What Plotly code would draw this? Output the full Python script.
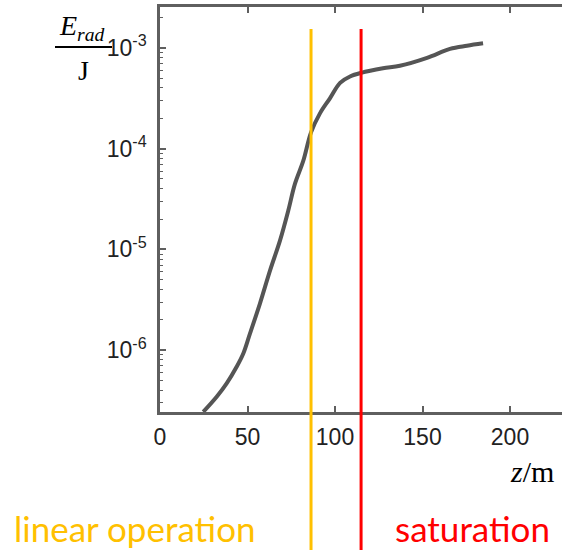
import plotly.graph_objects as go

# Radiated energy along the undulator (z in metres, E_rad in joules)
z_m = [24.7, 32.4, 38.1, 43.8, 47.6, 51.4, 57.1, 62.9, 68.6, 73.3, 77.1, 81.9,
       86.3, 91.4, 97.1, 102.9, 108.6, 114.9, 127.4, 137.1, 152.6, 165.7, 175.4, 184.6]
e_rad_J = [2.44e-7, 3.45e-7, 4.68e-7, 6.84e-7, 9.27e-7, 1.46e-6, 2.90e-6, 6.19e-6,
           1.23e-5, 2.43e-5, 4.47e-5, 7.60e-5, 1.45e-4, 2.24e-4, 3.16e-4, 4.50e-4,
           5.20e-4, 5.65e-4, 6.27e-4, 6.64e-4, 7.96e-4, 9.77e-4, 1.05e-3, 1.11e-3]

# Regime boundaries (z in metres)
linear_end_z = 86.3
saturation_z = 114.9

x_ticks = [0, 50, 100, 150, 200]
y_tick_exps = [-6, -5, -4, -3]
y_tick_vals = [10.0 ** e for e in y_tick_exps]
y_tick_text = [f"10<sup>{e}</sup>" for e in y_tick_exps]

W, H = 562, 550
L, R, T, B = 160, 0, 7, 138
plot_w = W - L - R
plot_h = H - T - B


def px(xpix):
    return (xpix - L) / plot_w


def py(ypix):
    return (H - B - ypix) / plot_h


axis_col = "#5f5f5f"
tick_font = dict(family="Liberation Sans", size=23, color="#222222")
serif = "Liberation Serif"
label_font = "Lato"

fig = go.Figure()
fig.add_trace(go.Scatter(
    x=z_m, y=e_rad_J, mode="lines",
    line=dict(color="#555555", width=4, shape="spline", smoothing=1.0),
    hoverinfo="skip", showlegend=False,
))

fig.update_layout(
    width=W, height=H,
    margin=dict(l=L, r=R, t=T, b=B, pad=0),
    paper_bgcolor="white", plot_bgcolor="white",
    showlegend=False,
    xaxis=dict(
        range=[0, plot_w / 1.75],
        tickvals=x_ticks, ticktext=[str(v) for v in x_ticks],
        ticks="inside", ticklen=6, tickwidth=1.5, tickcolor=axis_col,
        showline=True, linecolor=axis_col, linewidth=2.5, mirror="ticks",
        showgrid=False, zeroline=False, tickfont=tick_font,
        ticklabelstandoff=3,
    ),
    yaxis=dict(
        type="log", range=[-6.614, -2.594],
        tickvals=y_tick_vals, ticktext=y_tick_text,
        ticks="inside", ticklen=6, tickwidth=1.5, tickcolor=axis_col,
        minor=dict(ticks="inside", ticklen=3, tickcolor=axis_col, tickwidth=1, dtick="D1", showgrid=False),
        showline=True, linecolor=axis_col, linewidth=2.5, mirror=False,
        showgrid=False, zeroline=False, tickfont=tick_font,
        ticklabelstandoff=6,
    ),
)

# regime boundary lines, running from above the curve down past the axis
for zc, col in [(linear_end_z, "#FFC000"), (saturation_z, "#FF0000")]:
    fig.add_shape(type="line", xref="x", yref="paper",
                  x0=zc, x1=zc, y0=py(H + 2), y1=py(29),
                  line=dict(color=col, width=3), layer="above")

# y-axis quantity as a fraction E_rad / J
fig.add_shape(type="line", xref="paper", yref="paper",
              x0=px(55), x1=px(112), y0=py(47), y1=py(47),
              line=dict(color="black", width=2))
fig.add_annotation(xref="paper", yref="paper", x=px(82), y=py(27),
                   xanchor="center", yanchor="middle",
                   text="<i>E</i><sub><i>rad</i></sub>", showarrow=False,
                   font=dict(family=serif, size=28, color="black"))
fig.add_annotation(xref="paper", yref="paper", x=px(83), y=py(71),
                   xanchor="center", yanchor="middle",
                   text="J", showarrow=False,
                   font=dict(family=serif, size=28, color="black"))

# x-axis quantity
fig.add_annotation(xref="paper", yref="paper", x=px(532), y=py(471),
                   xanchor="center", yanchor="middle",
                   text="<i>z</i>/m", showarrow=False,
                   font=dict(family=serif, size=30, color="black"))

# regime labels
fig.add_annotation(xref="paper", yref="paper", x=px(135), y=py(528),
                   xanchor="center", yanchor="middle",
                   text="linear operation", showarrow=False,
                   font=dict(family=label_font, size=35, color="#FFC000"))
fig.add_annotation(xref="paper", yref="paper", x=px(472), y=py(528),
                   xanchor="center", yanchor="middle",
                   text="saturation", showarrow=False,
                   font=dict(family=label_font, size=35, color="#FF0000"))

fig.write_html("out.html")
